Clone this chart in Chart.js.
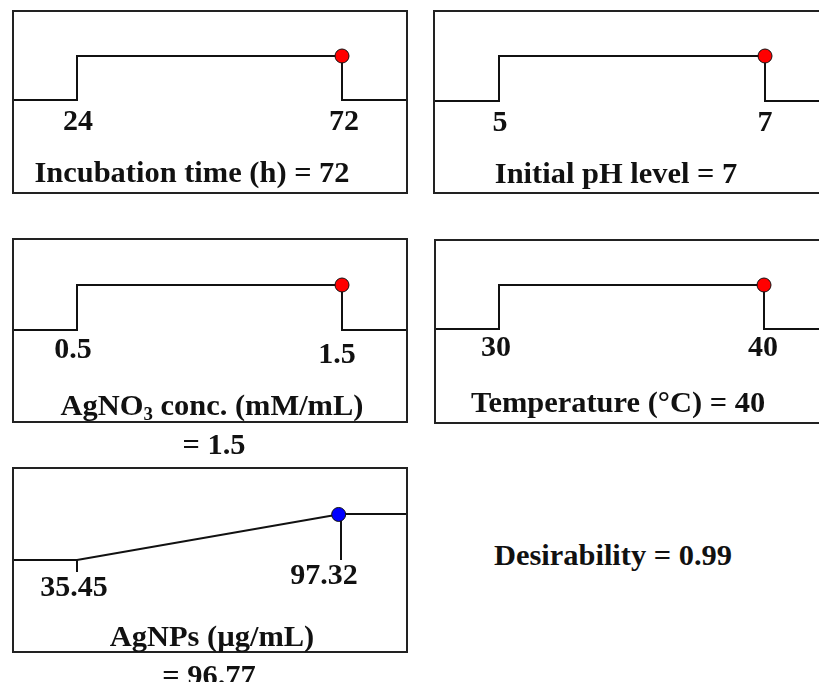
<!DOCTYPE html>
<html>
<head>
<meta charset="utf-8">
<script src="https://cdn.jsdelivr.net/npm/chart.js@4"></script>
<style>
  body { margin: 0; width: 819px; height: 682px; overflow: hidden; background: #fff; position: relative;
         font-family: "Liberation Serif", "Times New Roman", serif; font-weight: bold; color: #111; }
  .box { position: absolute; border: 2px solid #222; box-sizing: border-box; }
  .box canvas { position: absolute; left: 0; top: 0; }
  .lbl { position: absolute; transform: translate(-50%, -50%) scaleX(1.05); white-space: nowrap; font-size: 29px; }
  .lbl sub { font-size: 0.62em; vertical-align: -0.3em; line-height: 0; }
</style>
</head>
<body>
<script>
// --- datos ---
const factorNames = ['Incubation time (h)', 'Initial pH level', 'AgNO<sub>3</sub> conc. (mM/mL)', 'Temperature (°C)', 'AgNPs (µg/mL)'];
const lowLimits = [24, 5, 0.5, 30, 35.45];
const highLimits = [72, 7, 1.5, 40, 97.32];
const lowLabels = ['24', '5', '0.5', '30', '35.45'];
const highLabels = ['72', '7', '1.5', '40', '97.32'];
const optimumValues = [72, 7, 1.5, 40, 96.77];
const optimumDesirability = [1, 1, 1, 1, 0.99];
const dotColors = ['#ff0000', '#ff0000', '#ff0000', '#ff0000', '#0000ff'];
const overallDesirability = 0.99;

// --- layout (page pixels) ---
const layout = [
  { left: 12,  top: 10,  w: 396, h: 184, loX: 77,  hiX: 342, y0: 100, y1: 56,  lo: [1, 22],  hi: [2, 22],   title: [192, 172], split: null },
  { left: 433, top: 10,  w: 400, h: 184, loX: 499, hiX: 765, y0: 101, y1: 56,  lo: [1, 22],  hi: [0, 22],   title: [616, 173], split: null },
  { left: 12,  top: 238, w: 396, h: 185, loX: 77,  hiX: 342, y0: 330, y1: 285, lo: [-4, 20], hi: [-5, 25],  title: [212, 405], split: [214, 444] },
  { left: 434, top: 239, w: 400, h: 185, loX: 499, hiX: 764, y0: 329, y1: 285, lo: [-3, 19], hi: [-1, 19],  title: [618, 402], split: null },
  { left: 12,  top: 467, w: 396, h: 186, loX: 77,  hiX: 341, y0: 560, y1: 514, lo: [-3, 28], hi: [-17, 16], title: [212, 636], split: [209, 675] }
];
const B = 2;

function addLabel(html, pos) {
  const d = document.createElement('div');
  d.className = 'lbl';
  d.innerHTML = html;
  d.style.left = pos[0] + 'px';
  d.style.top = pos[1] + 'px';
  document.body.appendChild(d);
}

const tickText = {
  id: 'tickText',
  afterDatasetsDraw(chart, args, opts) {
    const c = chart.ctx, xs = chart.scales.x, ys = chart.scales.y;
    c.save();
    c.font = 'bold 30px "Liberation Serif", "Times New Roman", serif';
    c.fillStyle = '#111';
    c.textAlign = 'center';
    c.textBaseline = 'middle';
    opts.items.forEach(t => {
      c.fillText(t.text, xs.getPixelForValue(t.value) + t.dx, ys.getPixelForValue(0) + t.dy);
    });
    c.restore();
  }
};

layout.forEach((L, i) => {
  const box = document.createElement('div');
  box.className = 'box';
  Object.assign(box.style, { left: L.left + 'px', top: L.top + 'px', width: L.w + 'px', height: L.h + 'px' });
  const cv = document.createElement('canvas');
  const cw = L.w - 2 * B, ch = L.h - 2 * B;
  cv.width = cw; cv.height = ch;
  box.appendChild(cv);
  document.body.appendChild(box);

  const lo = lowLimits[i], hi = highLimits[i];
  const sx = (L.hiX - L.loX) / (hi - lo);
  const xMin = lo - (L.loX - (L.left + B)) / sx;
  const xMax = xMin + cw / sx;
  const sy = L.y0 - L.y1;
  const yMax = 1 + (L.y1 - (L.top + B)) / sy;
  const yMin = yMax - ch / sy;

  const line = { type: 'scatter', showLine: true, borderColor: '#111', borderWidth: 2, pointRadius: 0, order: 2 };
  const datasets = [{
    type: 'scatter',
    data: [{ x: optimumValues[i], y: optimumDesirability[i] }],
    pointRadius: 7, backgroundColor: dotColors[i], borderColor: '#111', borderWidth: 1, order: 0
  }];
  if (i < 4) {
    datasets.push(Object.assign({}, line, {
      data: [{ x: xMin, y: 0 }, { x: lo, y: 0 }, { x: lo, y: 1 }, { x: hi, y: 1 }, { x: hi, y: 0 }, { x: xMax, y: 0 }]
    }));
  } else {
    datasets.push(Object.assign({}, line, { data: [{ x: xMin, y: 0 }, { x: lo, y: 0 }, { x: hi, y: 1 }, { x: xMax, y: 1 }] }));
    datasets.push(Object.assign({}, line, { data: [{ x: lo, y: 0 }, { x: lo, y: -12 / sy }] }));
    datasets.push(Object.assign({}, line, { data: [{ x: hi, y: 1 }, { x: hi, y: 0 }] }));
  }

  new Chart(cv.getContext('2d'), {
    type: 'scatter',
    data: { datasets: datasets },
    options: {
      responsive: false,
      animation: false,
      events: [],
      layout: { padding: 0, autoPadding: false },
      scales: {
        x: { type: 'linear', min: xMin, max: xMax, display: false },
        y: { type: 'linear', min: yMin, max: yMax, display: false }
      },
      plugins: {
        legend: { display: false },
        tooltip: { enabled: false },
        tickText: {
          items: [
            { text: lowLabels[i], value: lo, dx: L.lo[0], dy: L.lo[1] },
            { text: highLabels[i], value: hi, dx: L.hi[0], dy: L.hi[1] }
          ]
        }
      }
    },
    plugins: [tickText]
  });

  if (L.split) {
    addLabel(factorNames[i], L.title);
    addLabel('= ' + optimumValues[i], L.split);
  } else {
    addLabel(factorNames[i] + ' = ' + optimumValues[i], L.title);
  }
});

addLabel('Desirability = ' + overallDesirability, [613, 555]);
</script>
</body>
</html>
